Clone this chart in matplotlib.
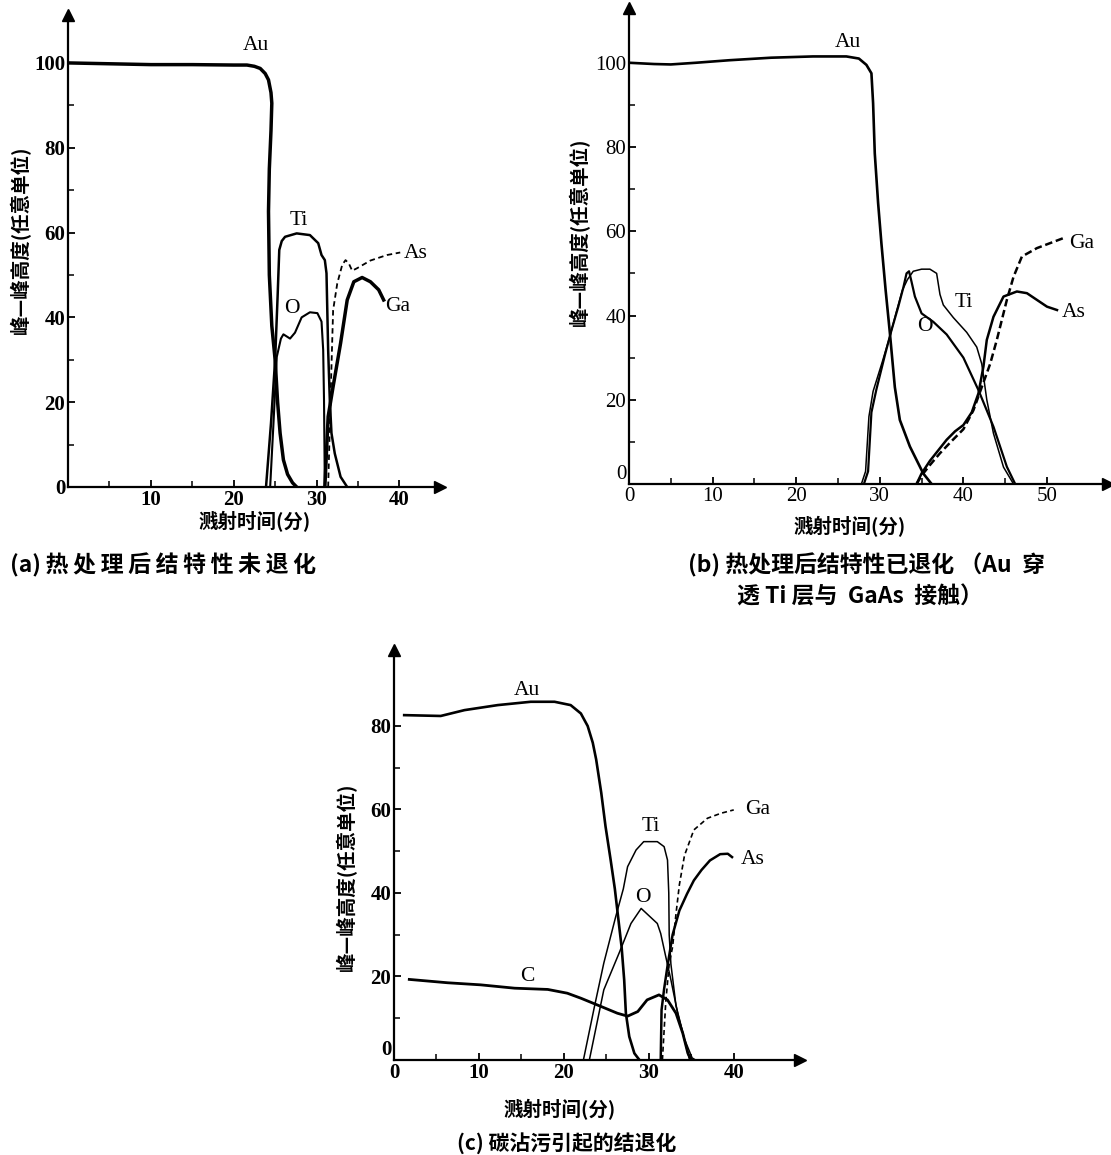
import matplotlib
matplotlib.use("Agg")
import matplotlib.pyplot as plt
from matplotlib.ticker import FixedLocator

# ---------------- panel (a) data ----------------
a_au_x = [0, 5, 10, 15, 20, 21.6, 22.5, 23.2, 23.8, 24.2, 24.5, 24.6, 24.5, 24.3, 24.2, 24.3, 24.6, 25.0, 25.3, 25.6, 26.0, 26.5, 27.1, 27.6]
a_au_y = [100, 99.8, 99.6, 99.6, 99.5, 99.5, 99.2, 98.7, 97.5, 96, 93, 90.5, 84, 75, 65, 50, 38, 30, 20, 12.7, 6.4, 3, 1, 0]
a_ti_x = [23.9, 24.5, 25.0, 25.3, 25.5, 25.8, 26.2, 27.6, 29.2, 30.2, 30.6, 31.0, 31.2, 31.4, 31.6, 31.8, 32.2, 32.9, 33.7]
a_ti_y = [0, 15, 30, 45, 55.9, 58, 59, 59.8, 59.4, 57.5, 54.7, 53.5, 50.4, 32.3, 20.5, 12.7, 7.9, 2.4, 0]
a_o_x = [24.4, 24.8, 25.2, 25.7, 26.0, 26.8, 27.4, 28.2, 29.2, 30.1, 30.6, 30.8, 30.9, 31.0]
a_o_y = [0, 15, 30.7, 35.0, 36.0, 35.0, 36.4, 40.0, 41.2, 41.0, 39.0, 32.3, 20.5, 0]
a_ga_x = [31.0, 31.4, 32.0, 32.9, 33.7, 34.5, 35.5, 36.5, 37.5, 38.1]
a_ga_y = [0, 16.6, 23.7, 33.9, 44.1, 48.4, 49.4, 48.4, 46.5, 44.1]
a_as_x = [31.4, 31.6, 31.8, 32.0, 32.5, 33.1, 33.5, 33.9, 34.3, 34.9, 36.5, 38.5, 40.1]
a_as_y = [0, 14, 28.4, 41.7, 48, 52.4, 53.5, 52.7, 51, 51.6, 53.4, 54.7, 55.3]
a_xticks = [10, 20, 30, 40]
a_yticks = [0, 20, 40, 60, 80, 100]

# ---------------- panel (b) data ----------------
b_au_x = [0, 3, 5, 8, 12, 17, 22, 26, 27.5, 28.4, 29.0, 29.2, 29.4, 29.8, 30.2, 30.7, 31.2, 31.8, 32.4, 33.6, 35.2, 36.2]
b_au_y = [100, 99.7, 99.6, 100, 100.6, 101.2, 101.5, 101.5, 101, 99.5, 97.5, 90.4, 78.5, 66.7, 57, 46, 36, 23, 15.2, 8.9, 2.5, 0]
b_ti_x = [27.8, 28.3, 28.7, 29.2, 30.3, 31.2, 32.0, 32.7, 33.3, 34.0, 35.0, 36.0, 36.8, 37.2, 37.6, 38.8, 40.4, 41.6, 42.2, 42.8, 43.6, 44.8, 46.0]
b_ti_y = [0, 3, 16, 22, 29, 35, 41, 46, 48.5, 50.5, 51, 51, 50, 45, 42.5, 39.5, 36, 32.5, 28.5, 20, 12, 4, 0]
b_o_x = [28.1, 28.6, 29.0, 29.6, 30.6, 31.4, 32.2, 32.8, 33.2, 33.5, 33.8, 34.2, 35.0, 36.4, 38.0, 40.0, 41.8, 43.6, 45.2, 46.2]
b_o_y = [0, 3, 17, 22.5, 30.5, 36.5, 42, 46.5, 50, 50.5, 48, 44.5, 40.5, 38.5, 35.5, 30, 22.3, 13.6, 4.1, 0]
b_as_x = [34.4, 35.0, 36.0, 37.0, 38.0, 39.0, 40.0, 41.0, 41.8, 42.4, 42.8, 43.6, 44.8, 46.4, 47.6, 48.8, 50.0, 51.2]
b_as_y = [0, 2.5, 5.5, 8, 10.5, 12.5, 14, 17, 21.5, 27.9, 34.2, 39.7, 44.5, 45.7, 45.3, 43.7, 42.1, 41.3]
b_ga_x = [34.4, 35.0, 36.0, 37.2, 38.5, 40.0, 41.2, 42.2, 43.2, 44.0, 45.2, 46.0, 47.0, 48.8, 50.4, 52.0]
b_ga_y = [0, 2, 4.5, 7.3, 10, 13, 17.5, 23, 28.5, 34.2, 43.7, 49.2, 54, 56, 57.2, 58.4]
b_xticks = [0, 10, 20, 30, 40, 50]
b_yticks = [0, 20, 40, 60, 80, 100]

# ---------------- panel (c) data ----------------
c_au_x = [1.2, 5.5, 8.3, 12.2, 16.1, 18.9, 20.8, 22.0, 22.8, 23.4, 23.8, 24.4, 24.9, 25.5, 26.0, 26.4, 26.8, 27.1, 27.3, 27.7, 28.3, 28.9]
c_au_y = [82.6, 82.4, 83.8, 85, 85.8, 85.8, 85, 83, 80, 76, 72, 64, 56, 48, 41, 34, 27, 19.2, 11.2, 5.6, 1.6, 0]
c_ti_x = [22.3, 23.6, 24.7, 26.1, 27.0, 27.5, 28.5, 29.4, 31.0, 31.8, 32.2, 32.35, 32.4, 32.6, 33.2, 34.2, 35.1, 35.5]
c_ti_y = [0, 12.8, 23.2, 34.3, 41, 46.3, 50.3, 52.3, 52.3, 51.1, 47.9, 40, 30, 23, 13, 5, 0.5, 0]
c_o_x = [23.0, 24.7, 26.5, 27.9, 29.1, 31.0, 31.4, 32.0, 32.6, 33.4, 34.2, 34.8]
c_o_y = [0, 16.8, 25.6, 32.7, 36.3, 32.7, 30.3, 24.7, 19.2, 11.2, 4.8, 0]
c_c_x = [1.8, 6.3, 10.2, 14.2, 18.1, 20.4, 22.0, 24.4, 26.3, 27.5, 28.7, 29.8, 31.2, 32.2, 33.2, 34.0, 34.6, 35.0]
c_c_y = [19.3, 18.5, 18, 17.2, 16.9, 16, 14.8, 12.8, 11.2, 10.5, 11.6, 14.4, 15.6, 14.4, 11.2, 6.4, 1.6, 0]
c_as_x = [31.4, 31.5, 31.8, 32.2, 32.8, 33.6, 34.5, 35.3, 36.2, 37.2, 38.4, 39.3, 39.8]
c_as_y = [0, 12, 17, 22.5, 30, 35.8, 39.8, 43, 45.5, 47.8, 49.3, 49.4, 48.6]
c_ga_x = [31.6, 32.0, 32.4, 32.8, 33.2, 33.6, 34.2, 35.3, 36.9, 38.5, 40.0]
c_ga_y = [0, 14, 23, 27.1, 35, 42, 49, 55.1, 57.9, 59.1, 59.9]
c_xticks = [0, 10, 20, 30, 40]
c_yticks = [0, 20, 40, 60, 80]

XLABEL = "溅射时间(分)"
YLABEL = "峰—峰高度(任意单位)"

CJK = ["Noto Sans CJK SC", "DejaVu Sans"]
SERIF = ["Liberation Serif", "DejaVu Serif"]
plt.rcParams["font.family"] = SERIF

fig = plt.figure(figsize=(11.11, 11.55), dpi=100)


def make_axes(rect, xmax, ymax, xticks, yticks, xminor, yminor, weight):
    ax = fig.add_axes(rect)
    ax.patch.set_alpha(0)
    ax.set_xlim(0, xmax)
    ax.set_ylim(0, ymax)
    for s in ["top", "right"]:
        ax.spines[s].set_visible(False)
    for s in ["left", "bottom"]:
        ax.spines[s].set_linewidth(1.6)
    ax.set_xticks(xticks, [str(t) for t in xticks], fontfamily=SERIF,
                  fontsize=15, fontweight=weight)
    ax.set_yticks(yticks, [str(t) for t in yticks], fontfamily=SERIF,
                  fontsize=15, fontweight=weight)
    ax.xaxis.set_minor_locator(FixedLocator(xminor))
    ax.yaxis.set_minor_locator(FixedLocator(yminor))
    ax.tick_params(which="major", direction="in", length=5, width=1.3, pad=2)
    ax.tick_params(which="minor", direction="in", length=4, width=1.1)
    ax.plot(1, 0, ">k", ms=9, transform=ax.transAxes, clip_on=False)
    ax.plot(0, 1, "^k", ms=9, transform=ax.transAxes, clip_on=False)
    if xticks[0] == 0:
        # keep the y "0" just above the x "0" at the origin
        ax.get_yticklabels()[0].set_verticalalignment("bottom")
    return ax


def lab(ax, x, y, s, size=15.5):
    ax.text(x, y, s, ha="center", va="center", fontfamily=SERIF, fontsize=size)


# ---------------- (a) ----------------
axa = make_axes([68 / 1111, 1 - 487 / 1155, 372 / 1111, 472 / 1155],
                44.9, 111.3, a_xticks, a_yticks, [5, 15, 25, 35], [10, 30, 50, 70, 90], "bold")
axa.plot(a_au_x, a_au_y, color="k", lw=2.5, solid_joinstyle="round")
axa.plot(a_ti_x, a_ti_y, color="k", lw=1.8, solid_joinstyle="round")
axa.plot(a_o_x, a_o_y, color="k", lw=1.5, solid_joinstyle="round")
axa.plot(a_ga_x, a_ga_y, color="k", lw=2.5, solid_joinstyle="round")
axa.plot(a_as_x, a_as_y, color="k", lw=1.3, ls=(0, (3, 2)))
lab(axa, 22.7, 104, "Au")
lab(axa, 27.9, 62.8, "Ti")
lab(axa, 27.0, 42.1, "O")
lab(axa, 39.8, 42.5, "Ga")
lab(axa, 42.0, 55, "As")
axa.text(0.503, -0.074, XLABEL, transform=axa.transAxes, ha="center", va="center",
         fontfamily=CJK, fontsize=14, fontweight="bold")
axa.text(-0.129, 0.523, YLABEL, transform=axa.transAxes, ha="center", va="center",
         rotation=90, fontfamily=CJK, fontsize=14, fontweight="bold")
fig.text(10 / 1111, 1 - 565 / 1155, "(a)\u2009" + "\u2009".join("热处理后结特性未退化"),
         ha="left", va="center", fontfamily=CJK, fontsize=16.5, fontweight="bold")

# ---------------- (b) ----------------
axb = make_axes([629 / 1111, 1 - 484 / 1155, 479 / 1111, 476 / 1155],
                57.3, 113, b_xticks, b_yticks, [5, 15, 25, 35, 45], [10, 30, 50, 70, 90], "normal")
axb.plot(b_au_x, b_au_y, color="k", lw=1.9, solid_joinstyle="round")
axb.plot(b_ti_x, b_ti_y, color="k", lw=1.1, solid_joinstyle="round")
axb.plot(b_o_x, b_o_y, color="k", lw=1.6, solid_joinstyle="round")
axb.plot(b_as_x, b_as_y, color="k", lw=1.8, solid_joinstyle="round")
axb.plot(b_ga_x, b_ga_y, color="k", lw=1.8, ls=(0, (3, 1.5)))
lab(axb, 26.2, 104.7, "Au")
lab(axb, 40.0, 43, "Ti")
lab(axb, 35.4, 37.3, "O")
lab(axb, 54.2, 57.2, "Ga")
lab(axb, 53.2, 40.6, "As")
axb.text(0.461, -0.090, XLABEL, transform=axb.transAxes, ha="center", va="center",
         fontfamily=CJK, fontsize=14, fontweight="bold")
axb.text(-0.104, 0.529, YLABEL, transform=axb.transAxes, ha="center", va="center",
         rotation=90, fontfamily=CJK, fontsize=14, fontweight="bold")
fig.text(866 / 1111, 1 - 565 / 1155, "(b) 热处理后结特性已退化 （Au  穿",
         ha="center", va="center", fontfamily=CJK, fontsize=16.5, fontweight="bold")
fig.text(860 / 1111, 1 - 597 / 1155, "透 Ti 层与  GaAs  接触）",
         ha="center", va="center", fontfamily=CJK, fontsize=16.5, fontweight="bold")

# ---------------- (c) ----------------
axc = make_axes([394 / 1111, 1 - 1060 / 1155, 406 / 1111, 410 / 1155],
                47.8, 98.2, c_xticks, c_yticks, [5, 15, 25, 35], [10, 30, 50, 70], "bold")
axc.plot(c_au_x, c_au_y, color="k", lw=1.9, solid_joinstyle="round")
axc.plot(c_ti_x, c_ti_y, color="k", lw=1.1, solid_joinstyle="round")
axc.plot(c_o_x, c_o_y, color="k", lw=1.1, solid_joinstyle="round")
axc.plot(c_c_x, c_c_y, color="k", lw=2.0, solid_joinstyle="round")
axc.plot(c_as_x, c_as_y, color="k", lw=1.8, solid_joinstyle="round")
axc.plot(c_ga_x, c_ga_y, color="k", lw=1.2, ls=(0, (3, 2)))
lab(axc, 15.7, 88.4, "Au")
lab(axc, 15.7, 20, "C")
lab(axc, 30.2, 55.9, "Ti")
lab(axc, 29.3, 39, "O")
lab(axc, 42.8, 60, "Ga")
lab(axc, 42.2, 48, "As")
axc.text(0.409, -0.122, XLABEL, transform=axc.transAxes, ha="center", va="center",
         fontfamily=CJK, fontsize=14, fontweight="bold")
axc.text(-0.116, 0.446, YLABEL, transform=axc.transAxes, ha="center", va="center",
         rotation=90, fontfamily=CJK, fontsize=14, fontweight="bold")
fig.text(567 / 1111, 1 - 1143 / 1155, "(c) 碳沾污引起的结退化",
         ha="center", va="center", fontfamily=CJK, fontsize=15, fontweight="bold")

fig.savefig("out.png", dpi=100)
